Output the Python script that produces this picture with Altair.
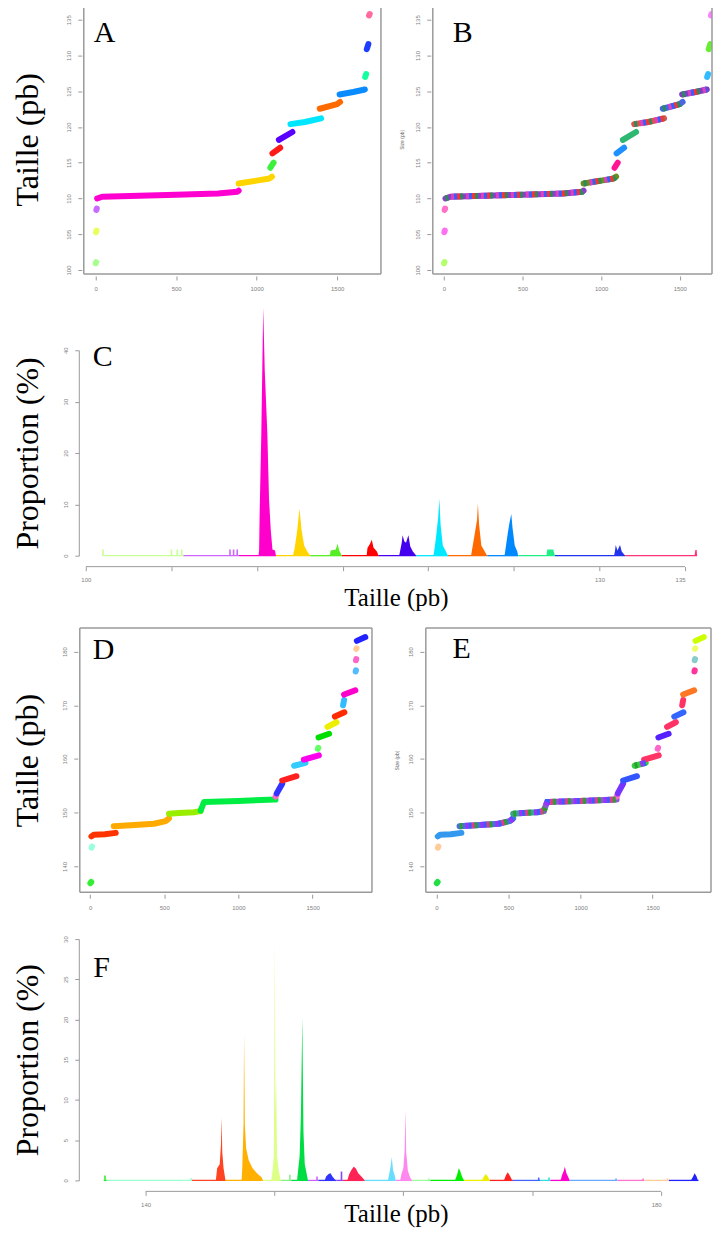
import altair as alt
import pandas as pd

SERIF = "Liberation Serif"
SANS = "Liberation Sans"
GRAY = "#9a9a9a"
LAB = "#808080"

# ---------------- Panels A / B : sorted allele sizes (index -> size) ----------------
A_seg = [0, 0, 1, 1, 2, 2, 3, 3, 3, 3, 3, 3, 4, 4, 4, 4, 5, 5, 6, 6, 7, 7,
         8, 8, 8, 9, 9, 9, 10, 10, 10, 11, 11, 12, 12, 13, 13]
A_idx = [0, 3, 2, 5, 4, 7, 9, 40, 444, 760, 880, 888, 888, 1000, 1080, 1095,
         1085, 1105, 1098, 1146, 1138, 1222, 1210, 1300, 1400, 1392, 1500, 1518,
         1515, 1600, 1672, 1674, 1680, 1684, 1694, 1698, 1702]
A_size = [100.95, 101.1, 105.3, 105.5, 108.4, 108.6, 110.0, 110.25, 110.5, 110.7,
          110.95, 111.1, 112.1, 112.5, 112.8, 113.05, 114.3, 115.0, 116.3, 117.1,
          118.2, 119.3, 120.4, 120.7, 121.2, 122.55, 123.2, 123.5, 124.55, 124.9,
          125.25, 127.0, 127.4, 130.9, 131.6, 135.6, 135.8]
A_colors = ["#a6ff8c", "#eaff5c", "#c86bff", "#ff00d0", "#ffd500", "#3cf03c", "#ff1a1a",
            "#5a00ff", "#00e6ff", "#ff6a00", "#0a8cff", "#14ff9e", "#1f3dff", "#ff6aa0"]
B_colors = ["#b4ff6e", "#ff70f0", "#ff70c8", "#8a3fc8", "#6b8e23", "#ff1493", "#1e90ff",
            "#2eb872", "#d9534f", "#4169e1", "#7b3fc8", "#33bbff", "#66ee33", "#ff80ff"]
B_multi = [3, 4, 8, 9, 10]
B_overlay = ["#2e8b57", "#ff3030", "#3060ff", "#e040c0"]

# ---------------- Panels D / E ----------------
D_seg = [0, 0, 1, 1, 2, 2, 2, 2, 3, 3, 3, 3, 3, 4, 4, 4, 4, 5, 5, 5, 5, 6, 6, 7, 7,
         8, 8, 9, 9, 10, 10, 11, 11, 12, 12, 13, 13, 14, 14, 15, 15, 16, 16, 17, 17,
         18, 18, 19, 19, 20, 20]
D_idx = [2, 8, 10, 13, 9, 25, 100, 173, 160, 300, 431, 509, 532, 532, 600, 700, 745,
         745, 768, 1000, 1250, 1250, 1255, 1258, 1295, 1295, 1391, 1375, 1452, 1441,
         1542, 1535, 1538, 1540, 1611, 1600, 1661, 1650, 1714, 1705, 1712, 1712, 1788,
         1790, 1792, 1792, 1794, 1794, 1796, 1798, 1855]
D_size = [136.9, 137.1, 143.5, 143.7, 145.6, 145.9, 146.0, 146.25, 147.5, 147.7,
          147.95, 148.45, 148.95, 149.8, 149.95, 150.1, 150.3, 150.4, 152.0, 152.2,
          152.45, 153.0, 153.2, 153.6, 155.4, 156.0, 156.8, 158.75, 159.3, 159.9,
          160.7, 161.9, 162.1, 164.0, 164.7, 166.0, 166.85, 167.9, 168.7, 170.0, 171.0,
          172.0, 172.8, 176.3, 176.5, 178.4, 178.6, 180.5, 180.6, 182.0, 182.7]
D_colors = ["#33ee33", "#99ffdd", "#ff3300", "#ffaa00", "#99ee00", "#00ee44", "#ff66cc",
            "#3333ff", "#ff2020", "#33ccff", "#ff00ee", "#66ff66", "#00dd00", "#eeee00",
            "#ff2a00", "#33bbff", "#ff00cc", "#55bbff", "#ff66cc", "#ffcc99", "#2222ff"]
E_colors = ["#22dd44", "#ffcc99", "#3399ee", "#4a6fe0", "#3aa0a0", "#8a5ad0", "#ff66cc",
            "#7733ff", "#3355ff", "#33cc44", "#ff3366", "#ff66cc", "#5522ff", "#ff3366",
            "#3366ff", "#ff3366", "#ff7722", "#ff3399", "#88cccc", "#eeff66", "#ccff00"]
E_multi = [3, 4, 5, 9]
E_overlay = ["#2ca02c", "#e03c8a", "#3b5bff", "#9b30ff"]

# ---------------- Panel C : size spectrum ----------------
C_colors = ["#c8ff96", "#cc66ff", "#ff00cc", "#ffd400", "#55ee22", "#ff0000", "#4400ee",
            "#00e8ff", "#ff6a00", "#0088ff", "#22ee88", "#2233ee", "#ff3377"]
C_base_start = [101.0, 105.7, 108.95, 111.1, 113.1, 114.95, 117.1, 119.3, 121.15,
                123.45, 125.25, 127.4, 131.5]
C_base_end = [105.7, 108.95, 111.1, 113.1, 114.95, 117.1, 119.3, 121.15, 123.45,
              125.25, 127.4, 131.5, 135.7]
C_peak_cl = ([2] * 12 + [3] * 8 + [4] * 6 + [5] * 7 + [6] * 10 + [7] * 9 + [8] * 9
             + [9] * 9 + [10] * 4 + [11] * 7 + [12] * 4)
C_peak_x = [110.08, 110.12, 110.15, 110.25, 110.36, 110.45, 110.6, 110.7, 110.8, 110.9, 111.05, 111.1,
            112.1, 112.2, 112.35, 112.48, 112.6, 112.75, 112.9, 113.1,
            114.25, 114.3, 114.6, 114.7, 114.8, 114.95,
            116.4, 116.45, 116.6, 116.7, 116.8, 117.0, 117.1,
            118.3, 118.35, 118.45, 118.5, 118.6, 118.7, 118.84, 118.95, 119.1, 119.3,
            120.3, 120.35, 120.45, 120.58, 120.65, 120.72, 120.85, 121.0, 121.15,
            122.5, 122.55, 122.7, 122.85, 122.9, 122.97, 123.1, 123.3, 123.43,
            124.45, 124.5, 124.65, 124.75, 124.85, 124.92, 125.05, 125.2, 125.25,
            126.9, 126.95, 127.3, 127.4,
            130.85, 130.9, 130.95, 131.05, 131.2, 131.3, 131.5,
            135.55, 135.6, 135.68, 135.7]
C_peak_h = [0, 1, 8, 24, 48.3, 36, 24, 11, 5, 1.2, 1, 0,
            0, 1.5, 5, 9.2, 5, 2, 1, 0,
            0, 1, 1.2, 2.3, 1, 0,
            0, 1.5, 2.3, 3.1, 1.6, 0.8, 0,
            0, 0.8, 2.5, 4.0, 2.8, 2.5, 4.0, 1.8, 0.8, 0,
            0, 1, 3.5, 7.5, 11.1, 6, 2, 1, 0,
            0, 1, 4, 7, 10.1, 6, 2, 0.8, 0,
            0, 1, 4.5, 6.5, 8.1, 5.5, 2, 0.8, 0,
            0, 1.2, 1.2, 0,
            0, 0.8, 2.1, 1, 2.1, 0.8, 0,
            0, 1.1, 1.1, 0]
C_spike_cl = [0, 0, 0, 0, 1, 1, 1]
C_spike_x = [101.0, 105.0, 105.34, 105.6, 108.42, 108.63, 108.84]
C_spike_h = [1.2, 1.2, 1.2, 1.2, 1.2, 1.2, 1.2]
C_xticks = [100, 105, 110, 115, 120, 125, 130, 135]
C_yticks = [0, 10, 20, 30, 40]

# ---------------- Panel F : size spectrum ----------------
F_colors = ["#33ee33", "#99ffcc", "#ff4422", "#ffb000", "#ddff88", "#88ee88", "#00dd44",
            "#cc66ff", "#3333ff", "#8844ff", "#ff2255", "#66ddff", "#ff88ee", "#99ff99",
            "#00ee00", "#eeee00", "#ff2222", "#4466ff", "#33dddd", "#ff00cc", "#66aaff",
            "#ff77cc", "#ffcc99", "#2222ff"]
F_base_start = [136.75, 137.0, 143.6, 146.2, 149.1, 150.5, 151.3, 152.6, 153.4, 154.8,
                155.3, 157.0, 159.4, 160.7, 162.1, 164.7, 166.7, 168.5, 170.6, 171.4,
                172.9, 176.6, 178.7, 180.6]
F_base_end = [137.0, 143.6, 146.2, 149.1, 150.5, 151.3, 152.6, 153.4, 154.8, 155.3,
              157.0, 159.4, 160.7, 162.1, 164.7, 166.7, 168.5, 170.6, 171.4, 172.9,
              176.6, 178.7, 180.6, 182.9]
F_peak_cl = ([2] * 8 + [3] * 11 + [4] * 9 + [6] * 10 + [8] * 6 + [10] * 8 + [11] * 7
             + [12] * 9 + [14] * 6 + [15] * 5 + [16] * 5 + [19] * 7 + [23] * 5)
F_peak_x = [145.45, 145.55, 145.75, 145.85, 145.9, 145.95, 146.05, 146.2,
            147.45, 147.5, 147.6, 147.64, 147.7, 147.8, 148.0, 148.3, 148.7, 149.0, 149.1,
            149.75, 149.85, 149.95, 150.03, 150.08, 150.13, 150.2, 150.35, 150.5,
            151.75, 151.85, 151.95, 152.05, 152.16, 152.2, 152.25, 152.35, 152.5, 152.6,
            153.9, 154.0, 154.2, 154.35, 154.5, 154.75,
            155.65, 155.8, 156.0, 156.15, 156.3, 156.5, 156.8, 157.0,
            158.8, 158.9, 159.0, 159.1, 159.2, 159.35, 159.4,
            159.75, 159.85, 160.0, 160.1, 160.16, 160.22, 160.35, 160.5, 160.65,
            164.0, 164.15, 164.3, 164.4, 164.55, 164.7,
            166.1, 166.25, 166.4, 166.55, 166.7,
            167.8, 167.95, 168.1, 168.25, 168.45,
            172.2, 172.3, 172.45, 172.53, 172.65, 172.8, 172.9,
            182.3, 182.45, 182.6, 182.75, 182.85]
F_peak_h = [0, 1.5, 2.0, 4.5, 7.8, 3.5, 1.5, 0,
            0, 1.5, 7, 18.3, 7, 4, 2.5, 1.5, 0.8, 0.4, 0,
            0, 1.2, 3, 30.1, 8, 12.8, 3, 1, 0,
            0, 1.5, 3, 8, 20.3, 13.6, 6, 2, 0.8, 0,
            0, 0.5, 0.8, 0.9, 0.5, 0,
            0, 0.8, 1.4, 1.7, 1.5, 0.9, 0.4, 0,
            0, 0.8, 1.6, 2.9, 1.3, 0.5, 0,
            0, 0.8, 1.5, 3.8, 8.8, 3.5, 1.2, 0.5, 0,
            0, 0.6, 1.5, 1.2, 0.5, 0,
            0, 0.5, 0.8, 0.5, 0,
            0, 0.6, 1.0, 0.6, 0,
            0, 0.6, 1.2, 1.7, 0.9, 0.4, 0,
            0, 0.4, 0.9, 0.5, 0]
F_spike_cl = [0, 1, 5, 7, 9, 13, 17, 18, 20, 21, 22]
F_spike_x = [136.85, 143.55, 151.2, 153.3, 155.2, 162.0, 170.5, 171.3, 176.5, 178.6, 180.5]
F_spike_h = [0.6, 0.3, 0.7, 0.5, 1.1, 0.25, 0.35, 0.35, 0.25, 0.25, 0.25]
F_xticks = [140, 150, 160, 170, 180]
F_yticks = [0, 5, 10, 15, 20, 25, 30]


def letter(txt, lx, ly, size=30):
    return alt.Chart(pd.DataFrame({"t": [txt]})).mark_text(
        font=SERIF, fontSize=size, align="left", baseline="alphabetic", color="black"
    ).encode(x=alt.value(lx), y=alt.value(ly), text="t:N")


def frame(x0, w, h):
    one = pd.DataFrame({"f": [1]})
    st = dict(color=GRAY, strokeWidth=1.5)
    top = alt.Chart(one).mark_rule(**st).encode(x=alt.value(x0), x2=alt.value(w), y=alt.value(0))
    bot = alt.Chart(one).mark_rule(**st).encode(x=alt.value(x0), x2=alt.value(w), y=alt.value(h))
    lef = alt.Chart(one).mark_rule(**st).encode(x=alt.value(x0), y=alt.value(0), y2=alt.value(h))
    rig = alt.Chart(one).mark_rule(**st).encode(x=alt.value(w), y=alt.value(0), y2=alt.value(h))
    return [top, bot, lef, rig]


def sorted_panel(colors, xdom, ydom, w, h, yvals, lab, lx, ly, ytitle, big_title,
                 tx, seg, idx, size, multi=None, overlay=None, clip=False,
                 frame_x0=0, yoff=2):
    df = pd.DataFrame({"seg": seg, "idx": idx, "size": size})
    xsc = alt.Scale(domain=xdom, nice=False, zero=False)
    ysc = alt.Scale(domain=ydom, nice=False, zero=False)
    xax = alt.Axis(values=[0, 500, 1000, 1500], format="d", title=None, domain=False,
                   grid=False, tickSize=4, tickColor=GRAY, offset=2, labelPadding=6,
                   labelFontSize=6, labelColor=LAB, labelFont=SANS, labelAngle=0)
    if big_title:
        tkw = dict(titleFont=SERIF, titleFontSize=32, titleColor="black")
    else:
        tkw = dict(titleFont=SANS, titleFontSize=5, titleColor="#666666")
    yax = alt.Axis(values=yvals, title=ytitle, domain=False, grid=False, tickSize=4,
                   tickColor=GRAY, offset=yoff, labelPadding=6, labelFontSize=6,
                   labelColor=LAB, labelFont=SANS, labelAngle=270, labelAlign="center",
                   labelBaseline="bottom", titleFontWeight="normal", titleAngle=270,
                   titleBaseline="top", titleAlign="center", titleX=tx, **tkw)
    X = alt.X("idx:Q", scale=xsc, axis=xax)
    Y = alt.Y("size:Q", scale=ysc, axis=yax)
    color = alt.Color("seg:N", scale=alt.Scale(domain=list(range(len(colors))), range=colors),
                      legend=None)
    base = alt.Chart(df).mark_line(strokeWidth=6, strokeCap="round", strokeJoin="round",
                                   clip=clip).encode(x=X, y=Y, color=color, detail="seg:N")
    layers = [base]
    if multi:
        dm = df[df["seg"].isin(multi)]
        for k, col in enumerate(overlay):
            layers.append(alt.Chart(dm).mark_line(
                color=col, strokeWidth=6, strokeCap="butt", strokeDash=[3, 12],
                strokeDashOffset=3 * k, clip=clip).encode(x=X, y=Y, detail="seg:N"))
    layers += frame(frame_x0, w, h)
    layers.append(letter(lab, lx, ly))
    return alt.layer(*layers).properties(width=w, height=h)


def spectrum_panel(colors, bstart, bend, pcl, px, ph, scl, sx, sh, xdom, ydom, w, h,
                   xvals, yvals, yoffset, xlabexpr, tx_x, tx_y, ty_x,
                   lab, lx, ly):
    n = len(colors)
    base = pd.DataFrame({"cl": list(range(n)), "x": bstart, "x1": bend})
    peaks = pd.DataFrame({"cl": pcl, "x": px, "h": ph})
    spikes = pd.DataFrame({"cl": scl, "x": sx, "h": sh})
    axline = pd.DataFrame({"x": [xvals[0]], "x1": [xvals[-1]]})
    color = alt.Color("cl:N", scale=alt.Scale(domain=list(range(n)), range=colors), legend=None)
    xsc = alt.Scale(domain=xdom, nice=False, zero=False)
    ysc = alt.Scale(domain=ydom, nice=False, zero=False)
    xax = alt.Axis(values=xvals, title="Taille (pb)", domain=False, grid=False,
                   tickSize=4, tickColor=GRAY, offset=11, labelPadding=6, labelFontSize=6,
                   labelFont=SANS, labelAngle=0, labelColor=LAB, labelExpr=xlabexpr,
                   titleFont=SERIF, titleFontSize=25, titleFontWeight="normal",
                   titleColor="black", titleBaseline="top", titleAlign="center",
                   titleX=tx_x, titleY=tx_y)
    yax = alt.Axis(values=yvals, title="Proportion (%)", domain=True, domainColor=GRAY,
                   grid=False, tickSize=4, tickColor=GRAY, offset=yoffset,
                   labelPadding=6, labelFontSize=6, labelColor=LAB, labelFont=SANS,
                   labelAngle=270, labelAlign="center", labelBaseline="bottom",
                   titleFont=SERIF, titleFontSize=32, titleFontWeight="normal",
                   titleColor="black", titleAngle=270, titleBaseline="top",
                   titleAlign="center", titleX=ty_x)
    X = alt.X("x:Q", scale=xsc, axis=xax)
    Y = alt.Y("h:Q", scale=ysc, axis=yax, stack=None)
    area = alt.Chart(peaks).mark_area(interpolate="linear", opacity=1).encode(
        x=X, y=Y, color=color, detail="cl:N")
    rule = alt.Chart(base).mark_rule(strokeWidth=1.3).encode(
        x=X, x2="x1:Q", y=alt.value(h), color=color)
    spk = alt.Chart(spikes).mark_rule(strokeWidth=1.6).encode(
        x=X, y=Y, y2=alt.value(h), color=color)
    axl = alt.Chart(axline).mark_rule(strokeWidth=1, color=GRAY).encode(
        x=X, x2="x1:Q", y=alt.value(h + 11))
    return alt.layer(axl, rule, spk, area, letter(lab, lx, ly)).properties(width=w, height=h)


# every first-column panel has its plot origin at image x = 83;
# the y-axis title anchor sits 71 px left of it (titleX is relative to the offset axis)
A = sorted_panel(A_colors, [-74, 1772], [99.44, 137.1], 298, 270,
                 [100, 105, 110, 115, 120, 125, 130, 135], "A", 10, 37,
                 "Taille (pb)", True, -69, A_seg, A_idx, A_size)
B = sorted_panel(B_colors, [-71.4, 1705], [99.44, 137.1], 280, 270,
                 [100, 105, 110, 115, 120, 125, 130, 135], "B", 20, 37,
                 "Size (pb)", False, -31.5, A_seg, A_idx, A_size,
                 multi=B_multi, overlay=B_overlay, clip=True)
D = sorted_panel(D_colors, [-42.3, 1899.9], [135.2, 184.4], 289, 265,
                 [140, 150, 160, 170, 180], "D", 9, 31,
                 "Taille (pb)", True, -65, D_seg, D_idx, D_size,
                 frame_x0=-4, yoff=6)
E = sorted_panel(E_colors, [-74, 1905], [135.2, 184.4], 286, 265,
                 [140, 150, 160, 170, 180], "E", 26.7, 30,
                 "Size (pb)", False, -29.5, D_seg, D_idx, D_size,
                 multi=E_multi, overlay=E_overlay, clip=True)

C = spectrum_panel(C_colors, C_base_start, C_base_end, C_peak_cl, C_peak_x, C_peak_h,
                   C_spike_cl, C_spike_x, C_spike_h, [99.88, 135], [0, 40], 603, 206,
                   C_xticks, C_yticks, 5,
                   "datum.value == 100 || datum.value >= 130 ? datum.label : ''",
                   313, 19, -66, "C", 9, 16)
F = spectrum_panel(F_colors, F_base_start, F_base_end, F_peak_cl, F_peak_x, F_peak_h,
                   F_spike_cl, F_spike_x, F_spike_h, [135.205, 180], [0, 30], 579, 242,
                   F_xticks, F_yticks, 5,
                   "datum.value == 140 || datum.value == 180 ? datum.label : ''",
                   313, 10, -66, "F", 9.6, 38)

IND = dict(color="independent", x="independent", y="independent")
row1 = alt.hconcat(A, B, spacing=17).resolve_scale(**IND)
row2 = alt.hconcat(C).resolve_scale(**IND)
row3 = alt.hconcat(D, E, spacing=21).resolve_scale(**IND)
row4 = alt.hconcat(F).resolve_scale(**IND)

chart = alt.vconcat(
    alt.vconcat(row1, row2, spacing=15.5).resolve_scale(**IND),
    alt.vconcat(row3, row4, spacing=25).resolve_scale(**IND),
    spacing=16,
).resolve_scale(**IND).properties(
    padding={"left": 4, "top": -6, "right": 0, "bottom": 0},
    background="white",
).configure_view(stroke=None)

chart.save("out.html", embed_options={"renderer": "svg", "actions": False})
